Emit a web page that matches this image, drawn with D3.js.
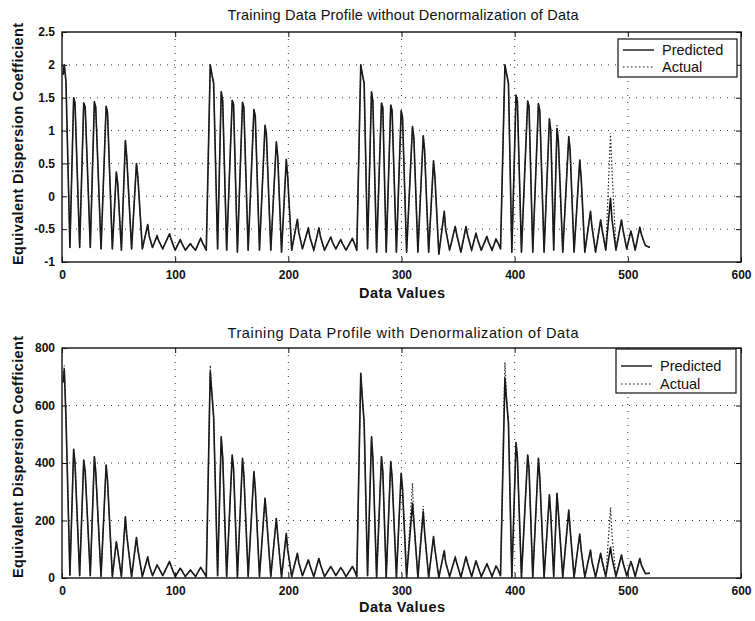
<!DOCTYPE html>
<head>
  <meta charset="utf-8">
  <title>Training Data Profile</title>
  <script src="https://cdn.jsdelivr.net/npm/d3@7"></script>
  <style>
    body {
      margin: 0;
      background: #fff;
    }
    text {
      font-family: "Liberation Sans", Arial, sans-serif;
      fill: #111;
    }
  </style>
</head>

<body>
  <script>
    // vertex positions along the data axis (shared by both panels)
    var dataIndex = [
      1, 2, 3.5, 7, 10.3, 11.5, 15.6, 19.2, 20.5, 25, 28.6, 29.8, 34.5, 39, 40.2, 44.5,
      48, 49.2, 52.5, 56, 57.2, 61.5, 65.8, 67, 71, 75.8, 77, 80, 84, 85.5, 89,
      95, 96.5, 100, 104.5, 106, 109, 113.5, 115, 118, 122.5, 124, 127.5,
      131, 132.5, 134, 137.5, 140.7, 142, 145.5, 150.4, 151.6, 155, 159.5, 160.7, 164.5,
      169.6, 170.8, 174.5, 179.4, 180.6, 184.5, 189.4, 190.6, 194, 198.2, 199.4, 203,
      208, 209.2, 212.5, 217.7, 219, 222.5, 227, 228.5, 232, 237.5, 239, 242,
      246.3, 247.8, 251, 256.6, 258, 260.5,
      264, 265.5, 267, 270, 273.5, 274.7, 278, 282.3, 283.5, 286.5, 290.5, 291.7, 295.5,
      299.7, 300.9, 304.5, 309.7, 310.9, 314.5, 319.2, 320.4, 324, 328.3, 329.5, 333,
      337.8, 339, 342.5, 347.5, 349, 352.5, 357, 358.5, 362, 365.8, 367.3, 370.5,
      375.5, 377, 380, 383.5, 385, 387.5,
      391.4, 393, 394.5, 397.5, 401.2, 402.4, 406, 411.5, 412.7, 416, 421, 422.2, 426,
      430.7, 431.9, 434.5, 437.4, 438.6, 442.5, 447.8, 449, 452.5, 457.5, 458.7, 462,
      467, 468.2, 471.5, 476, 477.2, 480.5, 484.7, 486, 489.5, 494.4, 495.6, 499,
      502.7, 504, 506.5, 510.6, 512, 515.5, 519.5
    ];

    var predictedNorm = [
      1.85, 2.0, 1.75, -0.78, 1.5, 1.42, -0.78, 1.42, 1.36, -0.78, 1.44, 1.36, -0.8, 1.37, 1.28, -0.8,
      0.37, 0.2, -0.82, 0.85, 0.6, -0.8, 0.5, 0.3, -0.8, -0.43, -0.6, -0.78, -0.6, -0.68, -0.8,
      -0.57, -0.66, -0.82, -0.66, -0.72, -0.82, -0.72, -0.76, -0.82, -0.64, -0.7, -0.82,
      2.0, 1.85, 1.72, -0.8, 1.59, 1.45, -0.82, 1.46, 1.4, -0.85, 1.43, 1.35, -0.82,
      1.32, 1.22, -0.82, 1.08, 0.95, -0.82, 0.83, 0.62, -0.85, 0.56, 0.3, -0.82,
      -0.35, -0.55, -0.8, -0.48, -0.62, -0.82, -0.48, -0.62, -0.82, -0.62, -0.7, -0.8,
      -0.66, -0.72, -0.82, -0.64, -0.7, -0.82,
      2.0, 1.85, 1.72, -0.8, 1.59, 1.45, -0.85, 1.42, 1.35, -0.85, 1.39, 1.3, -0.85,
      1.3, 1.2, -0.85, 1.06, 0.9, -0.85, 0.92, 0.7, -0.85, 0.54, 0.3, -0.88,
      -0.23, -0.5, -0.82, -0.46, -0.6, -0.85, -0.46, -0.6, -0.82, -0.56, -0.66, -0.82,
      -0.61, -0.7, -0.82, -0.65, -0.7, -0.8,
      2.0, 1.85, 1.72, -0.85, 1.54, 1.45, -0.85, 1.45, 1.36, -0.85, 1.41, 1.3, -0.85,
      1.18, 1.0, -0.82, 1.03, 0.85, -0.85, 0.91, 0.7, -0.85, 0.55, 0.3, -0.85,
      -0.23, -0.45, -0.85, -0.36, -0.5, -0.82, -0.03, -0.35, -0.82, -0.36, -0.5, -0.8,
      -0.53, -0.62, -0.82, -0.47, -0.58, -0.75, -0.78
    ];

    var actualNorm = [
      1.85, 2.0, 1.75, -0.78, 1.5, 1.42, -0.78, 1.42, 1.36, -0.78, 1.44, 1.36, -0.8, 1.37, 1.28, -0.8,
      0.37, 0.2, -0.82, 0.85, 0.6, -0.8, 0.5, 0.3, -0.8, -0.43, -0.6, -0.78, -0.6, -0.68, -0.8,
      -0.57, -0.66, -0.82, -0.66, -0.72, -0.82, -0.72, -0.76, -0.82, -0.64, -0.7, -0.82,
      2.0, 1.85, 1.72, -0.8, 1.59, 1.45, -0.82, 1.46, 1.4, -0.85, 1.43, 1.35, -0.82,
      1.32, 1.22, -0.82, 1.08, 0.95, -0.82, 0.83, 0.62, -0.85, 0.56, 0.3, -0.82,
      -0.35, -0.55, -0.8, -0.48, -0.62, -0.82, -0.48, -0.62, -0.82, -0.62, -0.7, -0.8,
      -0.66, -0.72, -0.82, -0.64, -0.7, -0.82,
      2.0, 1.85, 1.72, -0.8, 1.59, 1.45, -0.85, 1.42, 1.35, -0.85, 1.39, 1.3, -0.85,
      1.3, 1.2, -0.85, 1.06, 0.9, -0.85, 0.92, 0.7, -0.85, 0.54, 0.3, -0.88,
      -0.23, -0.5, -0.82, -0.46, -0.6, -0.85, -0.46, -0.6, -0.82, -0.56, -0.66, -0.82,
      -0.61, -0.7, -0.82, -0.65, -0.7, -0.8,
      2.0, 1.85, 1.72, -0.85, 1.54, 1.45, -0.85, 1.45, 1.36, -0.85, 1.41, 1.3, -0.85,
      1.18, 1.0, -0.82, 1.1, 0.85, -0.85, 0.91, 0.7, -0.85, 0.55, 0.3, -0.85,
      -0.23, -0.45, -0.85, -0.36, -0.5, -0.82, 0.96, 0.4, -0.8, -0.36, -0.5, -0.8,
      -0.53, -0.62, -0.82, -0.47, -0.58, -0.75, -0.78
    ];

    var predictedDenorm = [
      680, 725, 560, 10, 448, 400, 8, 410, 370, 8, 422, 370, 5, 393, 340, 5,
      126, 95, 5, 213, 150, 5, 141, 100, 5, 74, 45, 8, 45, 35, 8,
      57, 40, 5, 34, 25, 5, 28, 20, 5, 37, 28, 5,
      717, 640, 560, 8, 491, 420, 5, 428, 380, 3, 416, 360, 5,
      370, 310, 5, 277, 220, 5, 207, 150, 3, 155, 100, 5,
      86, 55, 8, 63, 45, 5, 68, 45, 5, 40, 30, 8,
      36, 28, 5, 40, 30, 5,
      712, 620, 540, 8, 491, 420, 3, 422, 370, 3, 405, 350, 3,
      364, 310, 3, 260, 200, 3, 231, 160, 3, 144, 100, 2,
      95, 55, 5, 72, 50, 3, 74, 50, 5, 60, 42, 5,
      49, 35, 5, 42, 32, 8,
      695, 610, 540, 3, 471, 420, 3, 428, 380, 3, 416, 350, 3,
      289, 220, 5, 295, 230, 3, 236, 170, 3, 153, 100, 3,
      97, 60, 3, 86, 60, 5, 107, 70, 5, 80, 55, 8,
      57, 42, 5, 68, 45, 15, 17
    ];

    var actualDenorm = [
      690, 740, 560, 10, 448, 400, 8, 410, 370, 8, 422, 370, 5, 393, 340, 5,
      126, 95, 5, 213, 150, 5, 141, 100, 5, 74, 45, 8, 45, 35, 8,
      57, 40, 5, 34, 25, 5, 28, 20, 5, 37, 28, 5,
      740, 640, 560, 8, 491, 420, 5, 428, 380, 3, 416, 360, 5,
      370, 310, 5, 277, 220, 5, 207, 150, 3, 155, 100, 5,
      86, 55, 8, 63, 45, 5, 68, 45, 5, 40, 30, 8,
      36, 28, 5, 40, 30, 5,
      712, 620, 540, 8, 491, 420, 3, 422, 370, 3, 405, 350, 3,
      364, 310, 3, 330, 200, 3, 250, 160, 3, 144, 100, 2,
      95, 55, 5, 72, 50, 3, 74, 50, 5, 60, 42, 5,
      49, 35, 5, 42, 32, 8,
      750, 610, 540, 3, 471, 420, 3, 428, 380, 3, 416, 350, 3,
      289, 220, 5, 295, 230, 3, 236, 170, 3, 153, 100, 3,
      97, 60, 3, 86, 60, 5, 245, 150, 5, 80, 55, 8,
      57, 42, 5, 68, 45, 15, 17
    ];

    var xTicks = [0, 100, 200, 300, 400, 500, 600];
    var normTicks = [-1, -0.5, 0, 0.5, 1, 1.5, 2, 2.5];
    var denormTicks = [0, 200, 400, 600, 800];
    var legendLabels = ["Predicted", "Actual"];

    var svg = d3.select("body")
      .append("svg")
      .attr("width", 755)
      .attr("height", 621);

    var x = d3.scaleLinear().domain([0, 600]).range([62, 741]);

    function drawPanel(cfg) {
      var y = d3.scaleLinear().domain(cfg.domain).range([cfg.bottom, cfg.top]);
      var g = svg.append("g");

      // dotted grid
      g.selectAll(".vgrid")
        .data(xTicks.slice(1, -1))
        .enter()
        .append("line")
        .attr("x1", d => x(d)).attr("x2", d => x(d))
        .attr("y1", cfg.top).attr("y2", cfg.bottom)
        .attr("stroke", "#333")
        .attr("stroke-width", 1)
        .attr("stroke-dasharray", "1,6");
      g.selectAll(".hgrid")
        .data(cfg.ticks.slice(1, -1))
        .enter()
        .append("line")
        .attr("x1", x(0)).attr("x2", x(600))
        .attr("y1", d => y(d)).attr("y2", d => y(d))
        .attr("stroke", "#333")
        .attr("stroke-width", 1)
        .attr("stroke-dasharray", "1,6");

      var line = d3.line()
        .x((d, i) => x(dataIndex[i]))
        .y(d => y(d));

      g.append("path")
        .datum(cfg.predicted)
        .attr("d", line)
        .attr("fill", "none")
        .attr("stroke", "#151515")
        .attr("stroke-width", 1.6)
        .attr("stroke-linejoin", "round");
      g.append("path")
        .datum(cfg.actual)
        .attr("d", line)
        .attr("fill", "none")
        .attr("stroke", "#222")
        .attr("stroke-width", 1.2)
        .attr("stroke-dasharray", "1.5,2");

      // axes, ticks pointing inwards like matlab
      var fmt = d => String(d);
      g.append("g")
        .attr("transform", "translate(0," + cfg.bottom + ")")
        .call(d3.axisBottom(x).tickValues(xTicks).tickSize(-5).tickPadding(8).tickFormat(fmt));
      g.append("g")
        .attr("transform", "translate(0," + cfg.top + ")")
        .call(d3.axisTop(x).tickValues(xTicks).tickSize(-5).tickFormat(""));
      g.append("g")
        .attr("transform", "translate(" + x(0) + ",0)")
        .call(d3.axisLeft(y).tickValues(cfg.ticks).tickSize(-5).tickPadding(7).tickFormat(fmt));
      g.append("g")
        .attr("transform", "translate(" + x(600) + ",0)")
        .call(d3.axisRight(y).tickValues(cfg.ticks).tickSize(-5).tickFormat(""));
      g.selectAll(".domain").remove();
      g.selectAll(".tick line").attr("stroke", "#111");
      g.selectAll(".tick text")
        .attr("fill", "#111")
        .style("font-size", "12px")
        .style("font-weight", "bold");

      g.append("rect")
        .attr("x", x(0)).attr("y", cfg.top)
        .attr("width", x(600) - x(0)).attr("height", cfg.bottom - cfg.top)
        .attr("fill", "none")
        .attr("stroke", "#111")
        .attr("stroke-width", 1.4);

      // titles and labels
      g.append("text")
        .attr("x", 403).attr("y", cfg.titleY)
        .attr("text-anchor", "middle")
        .attr("textLength", 351)
        .style("font-size", "14.5px")
        .text(cfg.title);
      g.append("text")
        .attr("x", 402).attr("y", cfg.xLabelY)
        .attr("text-anchor", "middle")
        .attr("textLength", 86)
        .style("font-size", "14.5px")
        .style("font-weight", "bold")
        .text("Data Values");
      g.append("text")
        .attr("transform", "translate(23," + cfg.yLabelMid + ") rotate(-90)")
        .attr("text-anchor", "middle")
        .attr("textLength", 242)
        .style("font-size", "14.5px")
        .style("font-weight", "bold")
        .text("Equivalent Dispersion Coefficient");

      // legend
      var lg = g.append("g");
      lg.append("rect")
        .attr("x", cfg.legend.x).attr("y", cfg.legend.y)
        .attr("width", cfg.legend.w).attr("height", cfg.legend.h)
        .attr("fill", "#fff")
        .attr("stroke", "#111")
        .attr("stroke-width", 1.2);
      legendLabels.forEach(function(lab, i) {
        var ly = cfg.legend.rows[i];
        lg.append("line")
          .attr("x1", cfg.legend.x + 5).attr("x2", cfg.legend.x + 36)
          .attr("y1", ly).attr("y2", ly)
          .attr("stroke", "#111")
          .attr("stroke-width", i === 0 ? 1.4 : 1.1)
          .attr("stroke-dasharray", i === 0 ? null : "1.5,2.5");
        lg.append("text")
          .attr("x", cfg.legend.x + 44).attr("y", ly + 5)
          .style("font-size", "14.5px")
          .text(lab);
      });
    }

    drawPanel({
      top: 32, bottom: 262,
      domain: [-1, 2.5], ticks: normTicks,
      predicted: predictedNorm, actual: actualNorm,
      title: "Training Data Profile without Denormalization of Data",
      titleY: 20, xLabelY: 298, yLabelMid: 144,
      legend: { x: 618, y: 39, w: 119, h: 38, rows: [50, 67] }
    });

    drawPanel({
      top: 348, bottom: 578,
      domain: [0, 800], ticks: denormTicks,
      predicted: predictedDenorm, actual: actualDenorm,
      title: "Training Data Profile with Denormalization of Data",
      titleY: 338, xLabelY: 612, yLabelMid: 457,
      legend: { x: 616, y: 349, w: 120, h: 44, rows: [366, 384] }
    });
  </script>
</body>
